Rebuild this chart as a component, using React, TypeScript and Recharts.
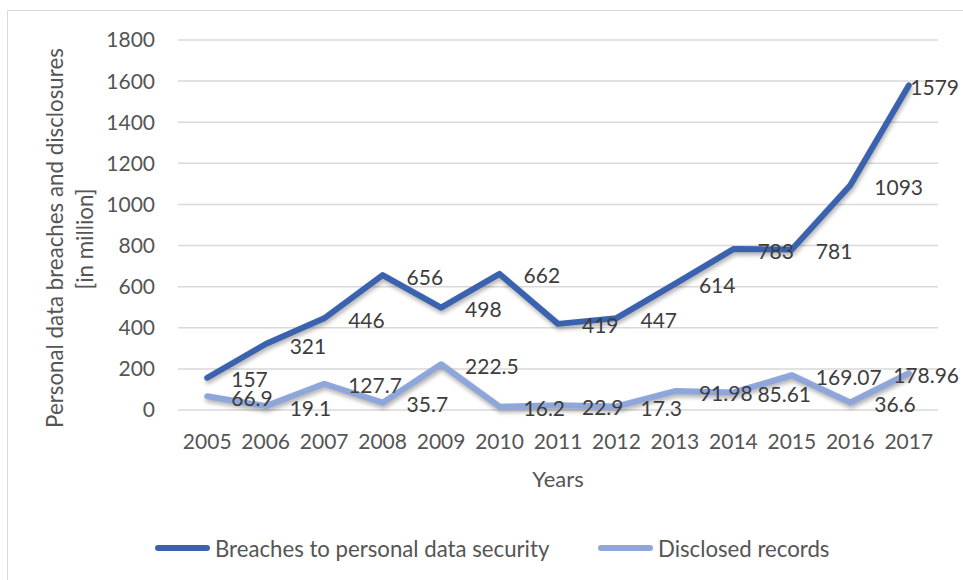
import React from 'react';
import { LineChart, Line, XAxis, YAxis, CartesianGrid, Legend, LabelList, Label } from 'recharts';

const years = ['2005', '2006', '2007', '2008', '2009', '2010', '2011', '2012', '2013', '2014', '2015', '2016', '2017'];
const breaches = [157, 321, 446, 656, 498, 662, 419, 447, 614, 783, 781, 1093, 1579];
const disclosed = [66.9, 19.1, 127.7, 35.7, 222.5, 16.2, 22.9, 17.3, 91.98, 85.61, 169.07, 36.6, 178.96];
const yTicks = [0, 200, 400, 600, 800, 1000, 1200, 1400, 1600, 1800];

const seriesNames = ['Breaches to personal data security', 'Disclosed records'];
const seriesColors = ['#3A62AE', '#8FA6DB'];

const data = years.map((year, i) => ({ year, breaches: breaches[i], disclosed: disclosed[i] }));

const FONT = 'Lato, "Open Sans", sans-serif';
const TEXT = '#555555';
const LABEL = '#3d3d3d';

const renderLabel = (props: any) => {
  const { x, y, value, index } = props;
  const isLast = index === years.length - 1;
  return (
    <text
      x={isLast ? 959 : x + 24}
      y={y + 2}
      dy="0.36em"
      textAnchor={isLast ? 'end' : 'start'}
      fill={LABEL}
      fontSize={21}
      fontFamily={FONT}
    >
      {value}
    </text>
  );
};

const renderYTitle = () => (
  <g>
    <text
      x={63}
      y={238}
      transform="rotate(-90, 63, 238)"
      textAnchor="middle"
      fill={TEXT}
      fontSize={22.3}
      fontFamily={FONT}
    >
      Personal data breaches and disclosures
    </text>
    <text
      x={93}
      y={239}
      transform="rotate(-90, 93, 239)"
      textAnchor="middle"
      fill={TEXT}
      fontSize={22.3}
      fontFamily={FONT}
    >
      [in million]
    </text>
  </g>
);

const renderLegend = () => (
  <div style={{ position: 'relative', width: 963, height: 30, fontFamily: FONT, fontSize: 22.2, color: TEXT }}>
    {seriesNames.map((name, i) => (
      <div
        key={name}
        style={{
          position: 'absolute',
          left: i === 0 ? 155 : 598,
          top: 0,
          height: 30,
          display: 'flex',
          alignItems: 'center',
          whiteSpace: 'nowrap',
        }}
      >
        <span style={{ display: 'inline-block', width: 55, height: 6, borderRadius: 3, background: seriesColors[i], marginRight: 5 }} />
        <span>{name}</span>
      </div>
    ))}
  </div>
);

export default function App() {
  return (
    <div style={{ position: 'absolute', left: 0, top: 0, width: 963, height: 580, background: '#fff', overflow: 'hidden' }}>
      <style>{`.recharts-line-curve { filter: drop-shadow(1px 3px 2px rgba(0,0,0,0.3)); }`}</style>
      <div
        style={{
          position: 'absolute',
          left: 7,
          top: 10,
          width: 970,
          height: 590,
          borderLeft: '1.5px solid #d9d9d9',
          borderTop: '1.5px solid #d9d9d9',
          boxSizing: 'border-box',
        }}
      />
      <LineChart width={963} height={580} data={data} margin={{ top: 40, right: 25, bottom: 140, left: 0 }}>
        <CartesianGrid horizontal vertical={false} stroke="#d9d9d9" strokeWidth={1.5} />
        <XAxis
          dataKey="year"
          height={30}
          padding={{ left: 29.23, right: 29.23 }}
          axisLine={false}
          tickLine={false}
          tickSize={0}
          tickMargin={24}
          interval={0}
          tick={{ fill: TEXT, fontSize: 21, fontFamily: FONT }}
        >
          <Label value="Years" position="bottom" offset={31} fill={TEXT} fontSize={22} fontFamily={FONT} />
        </XAxis>
        <YAxis
          width={178}
          domain={[0, 1800]}
          ticks={yTicks}
          interval={0}
          axisLine={false}
          tickLine={false}
          tickSize={0}
          tickMargin={23}
          tick={{ fill: TEXT, fontSize: 21, fontFamily: FONT }}
        >
          <Label content={renderYTitle} />
        </YAxis>
        <Legend
          layout="horizontal"
          verticalAlign="middle"
          align="center"
          content={renderLegend}
          wrapperStyle={{ top: 533, left: 0, width: 963 }}
        />
        <Line
          type="linear"
          dataKey="breaches"
          name={seriesNames[0]}
          stroke={seriesColors[0]}
          strokeWidth={6}
          strokeLinecap="round"
          strokeLinejoin="round"
          dot={false}
          activeDot={false}
          isAnimationActive={false}
        >
          <LabelList dataKey="breaches" content={renderLabel} />
        </Line>
        <Line
          type="linear"
          dataKey="disclosed"
          name={seriesNames[1]}
          stroke={seriesColors[1]}
          strokeWidth={6}
          strokeLinecap="round"
          strokeLinejoin="round"
          dot={false}
          activeDot={false}
          isAnimationActive={false}
        >
          <LabelList dataKey="disclosed" content={renderLabel} />
        </Line>
      </LineChart>
    </div>
  );
}
